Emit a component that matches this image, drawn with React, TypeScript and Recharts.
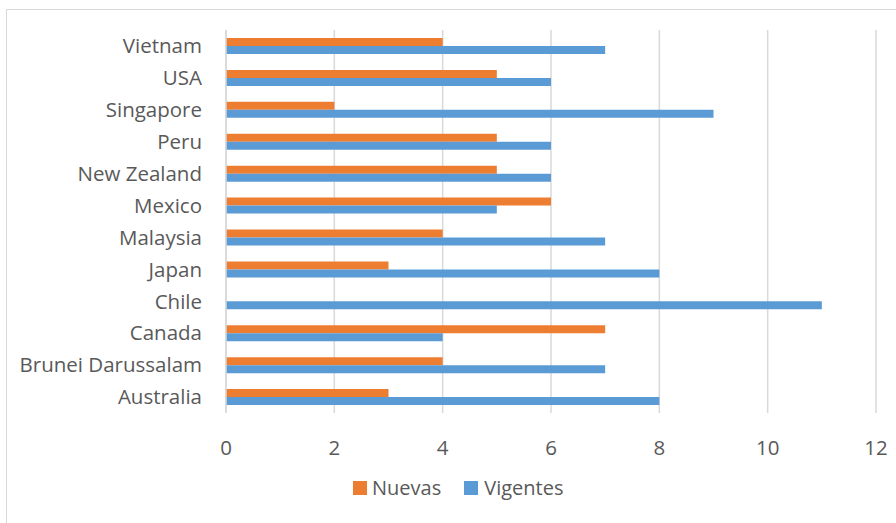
import React from "react";
import {
  BarChart, Bar, XAxis, YAxis, CartesianGrid,
} from "recharts";

const countries = [
  "Vietnam", "USA", "Singapore", "Peru", "New Zealand", "Mexico",
  "Malaysia", "Japan", "Chile", "Canada", "Brunei Darussalam", "Australia",
];
const nuevas = [4, 5, 2, 5, 5, 6, 4, 3, 0, 7, 4, 3];
const vigentes = [7, 6, 9, 6, 6, 5, 7, 8, 11, 4, 7, 8];
const xTicks = [0, 2, 4, 6, 8, 10, 12];

const FONT = "'Open Sans', sans-serif";
const TEXT = "#595959";

const data = countries.map((name, i) => ({
  name,
  Nuevas: nuevas[i],
  Vigentes: vigentes[i],
}));

// legend drawn outside the chart so it doesn't eat plot height
const LegendBox = () => (
  <div style={{
    position: "absolute", left: 353, top: 474, display: "flex", alignItems: "center",
    fontFamily: FONT, fontSize: 20, color: TEXT, lineHeight: "28px",
  }}>
    <span style={{ width: 14, height: 14, background: "#ED7D31", display: "inline-block", marginRight: 5 }} />
    <span style={{ marginRight: 23 }}>Nuevas</span>
    <span style={{ width: 14, height: 14, background: "#5B9BD5", display: "inline-block", marginRight: 6 }} />
    <span>Vigentes</span>
  </div>
);

export default function App() {
  return (
    <div style={{ position: "relative", width: 896, height: 523, overflow: "hidden", background: "#fff" }}>
      <style>{`body{margin:0}`}</style>
      <div style={{ position: "absolute", left: 6, top: 9, width: 920, height: 540, border: "1px solid #d9d9d9" }} />
      <div style={{ position: "absolute", left: 0, top: 0 }}>
        <BarChart
          width={896}
          height={523}
          data={data}
          layout="vertical"
          margin={{ top: 30, right: 20, bottom: 80, left: 0 }}
          barGap={0}
          barSize={8}
        >
          <CartesianGrid horizontal={false} stroke="#d9d9d9" strokeWidth={1.5} />
          <XAxis
            type="number"
            domain={[0, 12]}
            ticks={xTicks}
            axisLine={false}
            tickLine={false}
            tickMargin={21}
            height={30}
            tick={{ fill: TEXT, fontSize: 20.5, fontFamily: FONT }}
          />
          <YAxis
            type="category"
            dataKey="name"
            width={226}
            axisLine={{ stroke: "#d9d9d9", strokeWidth: 1.5 }}
            tickLine={false}
            tickMargin={18}
            interval={0}
            tick={{ fill: TEXT, fontSize: 20.5, fontFamily: FONT }}
          />
          <Bar dataKey="Nuevas" fill="#ED7D31" isAnimationActive={false} />
          <Bar dataKey="Vigentes" fill="#5B9BD5" isAnimationActive={false} />
        </BarChart>
      </div>
      <LegendBox />
    </div>
  );
}
